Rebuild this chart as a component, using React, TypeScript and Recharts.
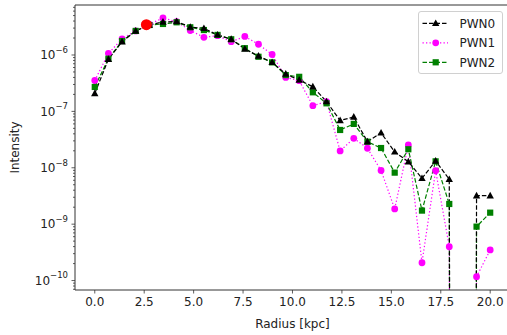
import { LineChart, Line, XAxis, YAxis, ReferenceDot, ReferenceLine } from "recharts";

// radius bins [kpc]
const radius = [
  0, 0.69, 1.38, 2.07, 2.76, 3.45, 4.14, 4.83, 5.52, 6.21, 6.9, 7.59, 8.28, 8.97, 9.66,
  10.34, 11.03, 11.72, 12.41, 13.1, 13.79, 14.48, 15.17, 15.86, 16.55, 17.24, 17.93, 18.62,
  19.31, 20.0,
];

// 1e-100 stands for the empty bin (zero on a log axis)
const pwn0 = [
  2.08e-7, 8.4e-7, 1.72e-6, 2.67e-6, 3.4e-6, 3.85e-6, 3.93e-6, 3.13e-6, 2.97e-6, 2.27e-6,
  1.9e-6, 1.28e-6, 9.6e-7, 7.4e-7, 4.6e-7, 3.6e-7, 2.74e-7, 1.49e-7, 6.9e-8, 7.96e-8,
  2.9e-8, 4.17e-8, 1.91e-8, 1.28e-8, 6.5e-9, 1.32e-8, 6.25e-9, 1e-100, 3.2e-9, 3.2e-9,
];
const pwn1 = [
  3.53e-7, 1.07e-6, 1.92e-6, 2.67e-6, 3.5e-6, 4.53e-6, 3.9e-6, 2.72e-6, 2.06e-6, 2.2e-6,
  1.72e-6, 2.13e-6, 1.55e-6, 1.02e-6, 4.0e-7, 3.5e-7, 1.26e-7, 1.49e-7, 1.99e-8, 3.33e-8,
  2.22e-8, 8.95e-9, 1.86e-9, 2.54e-8, 2.07e-10, 8.9e-9, 3.99e-10, 1e-100, 1.17e-10, 3.49e-10,
];
const pwn2 = [
  2.71e-7, 8.6e-7, 1.77e-6, 2.67e-6, 3.4e-6, 3.55e-6, 3.8e-6, 3.1e-6, 2.77e-6, 2.27e-6,
  1.9e-6, 1.32e-6, 9.3e-7, 7.4e-7, 4.4e-7, 4.1e-7, 2.18e-7, 1.39e-7, 4.68e-8, 6.0e-8,
  2.9e-8, 2.24e-8, 8.2e-9, 2.13e-8, 1.74e-9, 1.3e-8, 2.28e-9, 1e-100, 9.04e-10, 1.6e-9,
];

const peak = { r: 2.61, value: 3.44e-6 };

const xTicks = [0, 2.5, 5, 7.5, 10, 12.5, 15, 17.5, 20];
const X_MIN = -1;
const X_MAX = 20.85;
const Y_MIN = 6.8e-11;
const Y_MAX = 7.7e-6;

const yTicks: number[] = [];
for (let d = -11; d <= -6; d++) {
  for (let m = 1; m <= 9; m++) {
    const v = m * Math.pow(10, d);
    if (v >= Y_MIN && v <= Y_MAX) yTicks.push(v);
  }
}

const data = radius.map((r, i) => ({ r, pwn0: pwn0[i], pwn1: pwn1[i], pwn2: pwn2[i] }));

const TEXT = "#222";
const SPINE = "#333";
const FONT = "DejaVu Sans";

type Shape = "triangle" | "circle" | "square";

const series: { key: string; name: string; color: string; dash: string; shape: Shape }[] = [
  { key: "pwn1", name: "PWN1", color: "#ff00ff", dash: "1.3 2.2", shape: "circle" },
  { key: "pwn2", name: "PWN2", color: "#008000", dash: "4.5 2", shape: "square" },
  { key: "pwn0", name: "PWN0", color: "#000000", dash: "4.5 2", shape: "triangle" },
];
const legendOrder = ["pwn0", "pwn1", "pwn2"];

function marker(shape: Shape, cx: number, cy: number, color: string, key?: any) {
  if (shape === "circle") return <circle key={key} cx={cx} cy={cy} r={3.4} fill={color} />;
  if (shape === "square")
    return <rect key={key} x={cx - 3.1} y={cy - 3.1} width={6.2} height={6.2} fill={color} />;
  return (
    <polygon
      key={key}
      points={`${cx},${cy - 3.9} ${cx - 3.7},${cy + 2.7} ${cx + 3.7},${cy + 2.7}`}
      fill={color}
    />
  );
}

function YTick(props: any) {
  const { x, y, payload } = props;
  const exp = Math.log10(payload.value);
  const major = Math.abs(exp - Math.round(exp)) < 1e-6;
  return (
    <g>
      <line x1={x} x2={x - (major ? 3.5 : 2)} y1={y} y2={y} stroke={SPINE} strokeWidth={0.8} />
      {major && (
        <text x={x - 7} y={y + 4.3} textAnchor="end" fill={TEXT} fontSize={12} fontFamily={FONT}>
          <tspan>10</tspan>
          <tspan dy={-6.5} fontSize={8.5}>{`\u2212${Math.abs(Math.round(exp))}`}</tspan>
        </text>
      )}
    </g>
  );
}

function XTick(props: any) {
  const { x, y, payload } = props;
  return (
    <g>
      <line x1={x} x2={x} y1={y} y2={y + 3.5} stroke={SPINE} strokeWidth={0.8} />
      <text x={x} y={y + 15.5} textAnchor="middle" fill={TEXT} fontSize={12} fontFamily={FONT}>
        {payload.value.toFixed(1)}
      </text>
    </g>
  );
}

export default function App() {
  return (
    <div
      style={{
        position: "absolute",
        left: 0,
        top: 0,
        width: 507,
        height: 335,
        overflow: "hidden",
        background: "#fff",
        fontFamily: FONT,
      }}
    >
      <LineChart width={507} height={335} data={data} margin={{ top: 5, right: 0, left: 0, bottom: 0 }}>
        <XAxis
          dataKey="r"
          type="number"
          domain={[X_MIN, X_MAX]}
          allowDataOverflow
          ticks={xTicks}
          interval={0}
          height={45}
          tickSize={0}
          tickMargin={0}
          tick={<XTick />}
          axisLine={{ stroke: SPINE, strokeWidth: 1 }}
          label={{
            content: (p: any) => {
              const vb = p.viewBox;
              const cx = vb.x + (vb.width * (10 - X_MIN)) / (X_MAX - X_MIN);
              return (
                <text x={cx} y={vb.y + 37.5} textAnchor="middle" fill={TEXT} fontSize={12} fontFamily={FONT}>
                  Radius [kpc]
                </text>
              );
            },
          }}
        />
        <YAxis
          scale="log"
          type="number"
          domain={[Y_MIN, Y_MAX]}
          allowDataOverflow
          ticks={yTicks}
          interval={0}
          width={75}
          tickSize={0}
          tickMargin={0}
          tick={<YTick />}
          axisLine={{ stroke: SPINE, strokeWidth: 1 }}
          label={{
            content: (p: any) => {
              const vb = p.viewBox;
              const cx = vb.x + 15;
              const cy = vb.y + vb.height / 2;
              return (
                <text
                  x={cx}
                  y={cy}
                  transform={`rotate(-90 ${cx} ${cy})`}
                  textAnchor="middle"
                  dominantBaseline="central"
                  fill={TEXT}
                  fontSize={12}
                  fontFamily={FONT}
                >
                  Intensity
                </text>
              );
            },
          }}
        />
        <ReferenceLine y={Y_MAX} stroke={SPINE} strokeWidth={1} ifOverflow="visible" />
        {series.map((s) => (
          <Line
            key={s.key}
            dataKey={s.key}
            type="linear"
            stroke={s.color}
            strokeWidth={1.2}
            strokeDasharray={s.dash}
            isAnimationActive={false}
            activeDot={false}
            dot={(p: any) =>
              Number.isFinite(p.cy) && p.cy < 400 ? (
                marker(s.shape, p.cx, p.cy, s.color, p.index)
              ) : (
                <g key={p.index} />
              )
            }
          />
        ))}
        <ReferenceDot x={peak.r} y={peak.value} r={5.5} fill="#ff0000" stroke="none" />
      </LineChart>
      <div
        style={{
          position: "absolute",
          left: 418,
          top: 11,
          width: 85,
          height: 63,
          border: "1px solid #d0d0d0",
          borderRadius: 3,
          background: "rgba(255,255,255,0.8)",
          boxSizing: "border-box",
        }}
      >
        <svg width={85} height={63} style={{ position: "absolute", left: -1, top: -1 }}>
          {legendOrder.map((k, i) => {
            const s = series.find((q) => q.key === k)!;
            const y = 12.3 + i * 19.5;
            return (
              <g key={k}>
                <line x1={4.5} x2={30} y1={y} y2={y} stroke={s.color} strokeWidth={1.2} strokeDasharray={s.dash} />
                {marker(s.shape, 17.7, y, s.color)}
                <text x={41.5} y={y + 4.3} fill={TEXT} fontSize={12} fontFamily={FONT}>
                  {s.name}
                </text>
              </g>
            );
          })}
        </svg>
      </div>
    </div>
  );
}
